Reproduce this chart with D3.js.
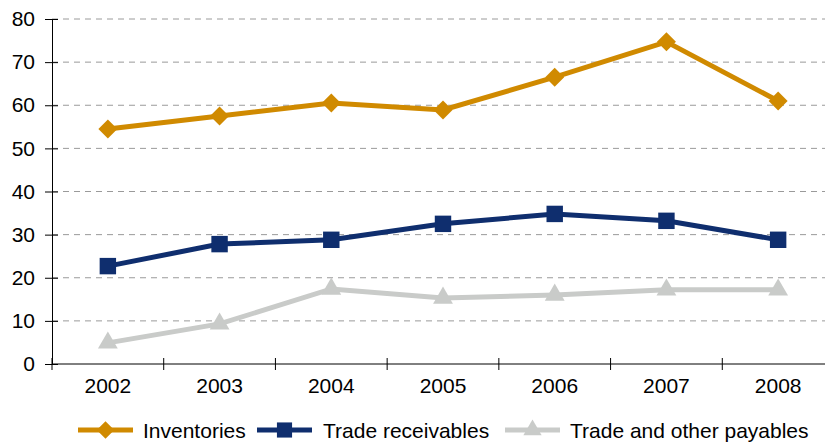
<!DOCTYPE html>
<html>
<head>
<meta charset="utf-8">
<script src="https://cdn.jsdelivr.net/npm/d3@7"></script>
<style>
    body { margin: 0; background: #fff; }
    svg text { font-family: "Liberation Sans", Arial, sans-serif; fill: #000; }
</style>
</head>
<body>
<div id="chart"></div>
<script>
// --- Data ---
const years = ['2002', '2003', '2004', '2005', '2006', '2007', '2008'];
const inventories = [54.5, 57.5, 60.5, 58.9, 66.5, 74.7, 61.0];
const tradeReceivables = [22.7, 27.8, 28.8, 32.5, 34.8, 33.2, 28.8];
const tradePayables = [4.9, 9.3, 17.4, 15.3, 16.0, 17.2, 17.2];
const yTicks = [0, 10, 20, 30, 40, 50, 60, 70, 80];

const series = [
    { name: 'Inventories', values: inventories, color: '#D08A00', symbol: d3.symbolSquare, size: 180, rotate: 45 },
    { name: 'Trade receivables', values: tradeReceivables, color: '#0F2E6E', symbol: d3.symbolSquare, size: 270, rotate: 0 },
    { name: 'Trade and other payables', values: tradePayables, color: '#C9CBC9', symbol: d3.symbolTriangle, size: 170, rotate: 0 }
];

// --- Layout ---
const width = 825, height = 445;
const plotLeft = 52, plotRight = 834, plotTop = 19, plotBottom = 364;
const fontSize = '21px';

const svg = d3.select('#chart').append('svg')
    .attr('width', width)
    .attr('height', height);

const x = d3.scaleBand().domain(years).range([plotLeft, plotRight]);
const y = d3.scaleLinear().domain([0, 80]).range([plotBottom, plotTop]);

// gridlines
svg.append('g')
    .selectAll('line')
    .data(yTicks.filter(t => t > 0))
    .enter().append('line')
    .attr('x1', plotLeft).attr('x2', width)
    .attr('y1', d => y(d)).attr('y2', d => y(d))
    .attr('stroke', '#9a9a9a')
    .attr('stroke-width', 1)
    .attr('stroke-dasharray', '6,5');

// y axis
const yAxis = svg.append('g')
    .attr('transform', `translate(${plotLeft},0)`)
    .call(d3.axisLeft(y).tickValues(yTicks).tickSize(7).tickPadding(10));
yAxis.select('.domain').attr('stroke', '#000');
yAxis.selectAll('.tick line').attr('x2', 6).attr('x1', -7).attr('stroke', '#000');
yAxis.selectAll('.tick text').style('font-size', fontSize);

// x axis
const xAxis = svg.append('g')
    .attr('transform', `translate(0,${plotBottom})`)
    .call(d3.axisBottom(x).tickSize(0).tickPadding(14));
xAxis.select('.domain').attr('d', `M${plotLeft},0H${width}`).attr('stroke', '#000');
xAxis.selectAll('.tick text').style('font-size', fontSize);
xAxis.selectAll('.boundary')
    .data(years)
    .enter().append('line')
    .attr('x1', d => x(d)).attr('x2', d => x(d))
    .attr('y1', -6).attr('y2', 6)
    .attr('stroke', '#000');

// lines + markers
const line = d3.line()
    .x((d, i) => x(years[i]) + x.bandwidth() / 2)
    .y(d => y(d));

series.forEach(s => {
    svg.append('path')
        .datum(s.values)
        .attr('fill', 'none')
        .attr('stroke', s.color)
        .attr('stroke-width', 5)
        .attr('d', line);

    svg.append('g')
        .selectAll('path')
        .data(s.values)
        .enter().append('path')
        .attr('d', d3.symbol().type(s.symbol).size(s.size))
        .attr('transform', (d, i) => `translate(${x(years[i]) + x.bandwidth() / 2},${y(d)}) rotate(${s.rotate})`)
        .attr('fill', s.color);
});

// legend
const legendItems = [
    { x: 78, textX: 143 },
    { x: 257, textX: 323 },
    { x: 505, textX: 570 }
];
const legend = svg.append('g').attr('transform', 'translate(0,430)');
series.forEach((s, i) => {
    const it = legendItems[i];
    legend.append('line')
        .attr('x1', it.x).attr('x2', it.x + 55)
        .attr('y1', 0).attr('y2', 0)
        .attr('stroke', s.color)
        .attr('stroke-width', 5);
    legend.append('path')
        .attr('d', d3.symbol().type(s.symbol).size(s.size * 0.85))
        .attr('transform', `translate(${it.x + 27.5},0) rotate(${s.rotate})`)
        .attr('fill', s.color);
    legend.append('text')
        .attr('x', it.textX)
        .attr('y', 8)
        .style('font-size', fontSize)
        .text(s.name);
});
</script>
</body>
</html>
